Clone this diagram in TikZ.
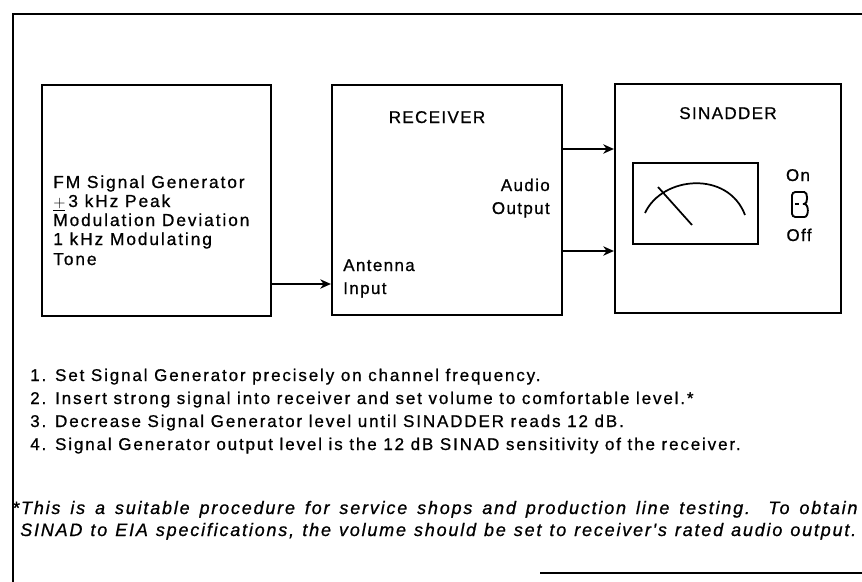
\documentclass[tikz,border=0pt]{standalone}
\usepackage{fontspec}
\setmainfont{Liberation Sans}
\newfontfamily\labelfont[LetterSpace=8, FakeBold=0.8]{Liberation Sans}
\newfontfamily\widelabelfont[LetterSpace=11, FakeBold=0.8]{Liberation Sans}
\newfontfamily\notefont[LetterSpace=10, FakeBold=0.8]{Liberation Sans}
\usetikzlibrary{arrows.meta}

\tikzset{
  unitbox/.style={draw, line width=1.6pt, minimum width=#1, inner sep=0pt},
  frameline/.style={line width=1.6pt},
  sig/.style={line width=1.2pt, -{Stealth[length=8pt, width=7pt, inset=2.5pt]}},
  lbl/.style={inner sep=0pt, font=\labelfont\fontsize{12.75pt}{15pt}\selectfont},
  genlbl/.style={inner sep=0pt, anchor=base west, font=\widelabelfont\fontsize{13pt}{15pt}\selectfont},
  step text/.style={inner sep=0pt, anchor=base west, font=\widelabelfont\fontsize{12.75pt}{15pt}\selectfont},
  note text/.style={inner sep=0pt, anchor=base west, font=\notefont\itshape\fontsize{13.5pt}{16pt}\selectfont},
}

\begin{document}
\begin{tikzpicture}[x=0.75pt, y=-0.75pt]
\useasboundingbox (0,0) rectangle (862,581);

% outer frame (top and left edge, short piece at the bottom)
\coordinate (ftl) at (13,14);
\coordinate (ftr) at (866,14);
\coordinate (fbl) at (13,585);
\coordinate (fbs) at (540,573);
\coordinate (fbe) at (866,573);
\draw[frameline] (ftr) -- (ftl) -- (fbl);
\draw[frameline] (fbs) -- (fbe);

% the three units
\node[unitbox=171.75pt, minimum height=173.25pt] (gen) at (156.5,200.5) {};
\node[unitbox=172.5pt, minimum height=172.5pt] (rcv) at (447,200) {};
\node[unitbox=169.5pt, minimum height=171.75pt] (sin) at (728,198.5) {};

% signal generator text
\node[genlbl] (g1) at (53,188) {FM Signal Generator};
\node[genlbl] (g2) at (53,207) {$\underline{+}$\,3 kHz Peak};
\node[genlbl] (g3) at (53,226) {Modulation Deviation};
\node[genlbl] (g4) at (53,245) {1 kHz Modulating};
\node[genlbl] (g5) at (53,265) {Tone};

% receiver text
\node[lbl, anchor=base] (rt) at (437,123) {RECEIVER};
\node[lbl, anchor=base east] (ao1) at (550,191) {Audio};
\node[lbl, anchor=base east] (ao2) at (550,214) {Output};
\node[lbl, anchor=base west] (ai1) at (343,271) {Antenna};
\node[lbl, anchor=base west] (ai2) at (343,294) {Input};

% sinadder text
\node[lbl, anchor=base] (st) at (728,119) {SINADDER};
\node[lbl, anchor=base] (on) at (798,181) {On};
\node[lbl, anchor=base] (off) at (799,241) {Off};

% meter face with scale arc and needle
\node[draw, line width=1.6pt, minimum width=93.75pt, minimum height=60.75pt, inner sep=0pt] (meter) at (695.5,203.5) {};
\coordinate (arcL) at (645,213);
\coordinate (arcR) at (745,215);
\coordinate (ndlA) at (658,187);
\coordinate (ndlB) at (692,225);
\draw[line width=1.3pt] (arcL) .. controls (662,176) and (728,170) .. (arcR);
\draw[line width=1.3pt] (ndlA) -- (ndlB);

% power toggle switch
\coordinate (swA) at (792,192);
\draw[line width=1.4pt, rounded corners=2.5pt]
  (swA) -- (801,192) .. controls (808,192) and (808,204) .. (801,204)
  .. controls (809,204) and (809,217) .. (801,217) -- (792,217) -- cycle;
\draw[line width=1pt] (795,204) -- (799,204);

% signal connections
\coordinate (yant) at (0,284);
\coordinate (yao1) at (0,149);
\coordinate (yao2) at (0,251);
\draw[sig] (gen.east |- yant) -- (rcv.west |- yant);
\draw[sig] (rcv.east |- yao1) -- (sin.west |- yao1);
\draw[sig] (rcv.east |- yao2) -- (sin.west |- yao2);

% procedure steps
\node[step text] (s1) at (30,381) {1. Set Signal Generator precisely on channel frequency.};
\node[step text] (s2) at (30,404) {2. Insert strong signal into receiver and set volume to comfortable level.*};
\node[step text] (s3) at (30,427) {3. Decrease Signal Generator level until SINADDER reads 12 dB.};
\node[step text] (s4) at (30,450) {4. Signal Generator output level is the 12 dB SINAD sensitivity of the receiver.};

% footnote, each line set to a fixed width
\node[note text] (n1) at (12,514) {\hbox to 634pt{*This is a suitable procedure for service shops and production line testing. To obtain}};
\node[note text] (n2) at (20,536) {\hbox to 627pt{SINAD to EIA specifications, the volume should be set to receiver's rated audio output.}};
\end{tikzpicture}
\end{document}
